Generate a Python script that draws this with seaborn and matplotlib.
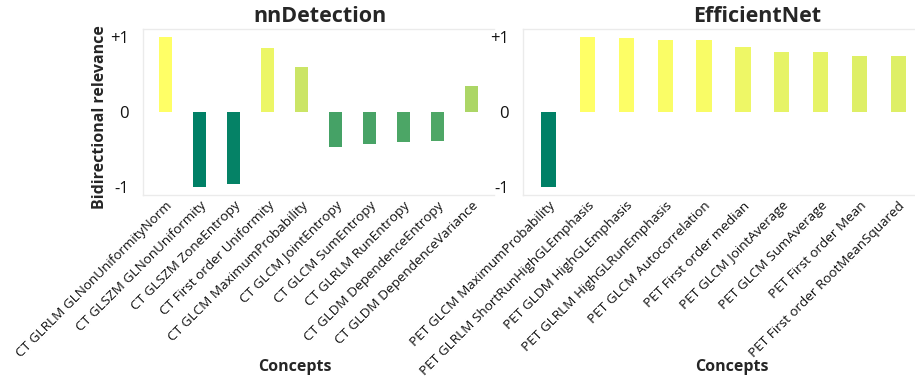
import matplotlib
matplotlib.use("Agg")
import matplotlib.pyplot as plt
import seaborn as sns
import numpy as np
import pandas as pd

# Concept relevance per model
nn_concepts = [
    "CT GLRLM GLNonUniformityNorm",
    "CT GLSZM GLNonUniformity",
    "CT GLSZM ZoneEntropy",
    "CT First order Uniformity",
    "CT GLCM MaximumProbability",
    "CT GLCM JointEntropy",
    "CT GLCM SumEntropy",
    "CT GLRLM RunEntropy",
    "CT GLDM DependenceEntropy",
    "CT GLDM DependenceVariance",
]
nn_values = [1.0, -1.0, -0.96, 0.85, 0.59, -0.46, -0.43, -0.40, -0.39, 0.35]

eff_concepts = [
    "PET GLCM MaximumProbability",
    "PET GLRLM ShortRunHighGLEmphasis",
    "PET GLDM HighGLEmphasis",
    "PET GLRLM HighGLRunEmphasis",
    "PET GLCM Autocorrelation",
    "PET First order median",
    "PET GLCM JointAverage",
    "PET GLCM SumAverage",
    "PET First order Mean",
    "PET First order RootMeanSquared",
]
eff_values = [-1.0, 1.0, 0.98, 0.96, 0.95, 0.86, 0.80, 0.80, 0.74, 0.74]

ytick_values = [-1, 0, 1]
ytick_labels = ["-1", "0", "+1"]

sns.set_theme(style="white")
plt.rcParams["font.family"] = ["Open Sans", "DejaVu Sans"]

fig = plt.figure(figsize=(9.15, 3.8), dpi=100)
W, H = 915, 380
def px_axes(x0, x1, ytop, ybot):
    return fig.add_axes([x0 / W, 1 - ybot / H, (x1 - x0) / W, (ybot - ytop) / H])

ax1 = px_axes(143, 494, 29, 195)
ax2 = px_axes(523, 924, 29, 195)

cmap = plt.get_cmap("summer")
norm = plt.Normalize(-1, 1)
frame = "#ebebeb"

def draw(ax, concepts, values, title, title_x, xlabel_x, ylabel):
    df = pd.DataFrame({"concept": concepts, "value": values})
    colors = [cmap(norm(v)) for v in values]
    sns.barplot(data=df, x="concept", y="value", hue="concept",
                palette=colors, legend=False, width=0.39, saturation=1,
                linewidth=0, ax=ax)
    ax.set_xlim(-0.66, 9.66)
    ax.set_ylim(-1.1, 1.1)
    ax.set_yticks(ytick_values)
    ax.set_yticklabels(ytick_labels, fontsize=12, color="#111111")
    ax.tick_params(axis="y", length=0, pad=10)
    ax.tick_params(axis="x", length=0, pad=3)
    ax.set_xticks(range(len(concepts)))
    ax.set_xticklabels(concepts, rotation=45, ha="right",
                       rotation_mode="anchor", fontsize=9.7, color="#111111")
    for side in ["left", "top", "bottom"]:
        ax.spines[side].set_visible(True)
        ax.spines[side].set_color(frame)
        ax.spines[side].set_linewidth(1.0)
    ax.spines["right"].set_visible(False)
    ax.set_title(title, fontsize=15.5, fontweight="bold", x=title_x, pad=5)
    ax.set_xlabel("Concepts", fontsize=11.5, fontweight="bold")
    ax.xaxis.set_label_coords(xlabel_x, -0.99)
    if ylabel:
        ax.set_ylabel(ylabel, fontsize=11.5, fontweight="bold")
        ax.yaxis.set_label_coords(-0.1, 0.47)
    else:
        ax.set_ylabel("")

draw(ax1, nn_concepts, nn_values, "nnDetection", 0.505, 0.433,
     "Bidirectional relevance")
draw(ax2, eff_concepts, eff_values, "EfficientNet", 0.584, 0.522, None)

fig.savefig("out.png", dpi=100)
